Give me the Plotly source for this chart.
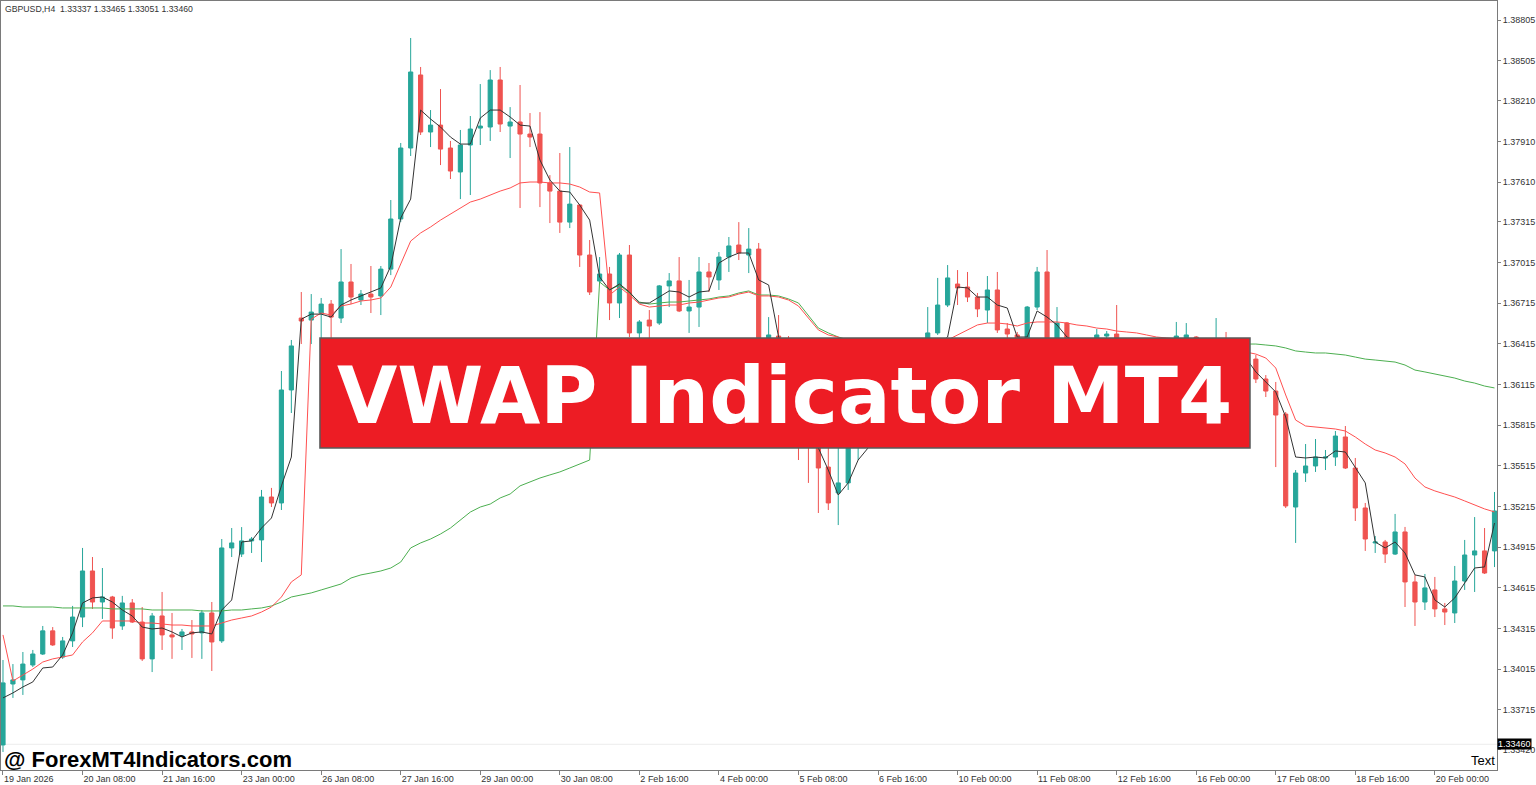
import plotly.graph_objects as go

# GBPUSD H4 candles, 19 Jan - 20 Feb 2026
open_ = [
    1.33455, 1.33905, 1.33935, 1.34045, 1.34126, 1.34297, 1.34104, 1.34223, 1.34399, 1.34739,
    1.34510, 1.34547, 1.34333, 1.34503, 1.34362, 1.34090, 1.34407, 1.34267, 1.34260, 1.34289,
    1.34282, 1.34429, 1.34223, 1.34909, 1.34864, 1.34961, 1.34968, 1.35285, 1.35241, 1.36075,
    1.36606, 1.36591, 1.36643, 1.36709, 1.36606, 1.36872, 1.36739, 1.36783, 1.36769, 1.36967,
    1.37337, 1.37861, 1.38400, 1.37979, 1.38030, 1.37861, 1.37684, 1.37883, 1.38008, 1.38016,
    1.38363, 1.38023, 1.38053, 1.37964, 1.37964, 1.37603, 1.37543, 1.37314, 1.37440, 1.37071,
    1.36879, 1.36931, 1.36717, 1.37071, 1.36496, 1.36591, 1.36569, 1.36843, 1.36880, 1.36658,
    1.36687, 1.36946, 1.36887, 1.37056, 1.37145, 1.37071, 1.37115, 1.36459, 1.36473, 1.36370,
    1.36149, 1.35817, 1.35669, 1.35506, 1.35315, 1.35389, 1.35706, 1.35890, 1.36001, 1.35927,
    1.36112, 1.36222, 1.36163, 1.36407, 1.36496, 1.36702, 1.36857, 1.36835, 1.36761, 1.36665,
    1.36813, 1.36525, 1.36481, 1.36407, 1.36687, 1.36946, 1.36407, 1.36569, 1.36407, 1.36370,
    1.36429, 1.36473, 1.36488, 1.36429, 1.36370, 1.36407, 1.36355, 1.36400, 1.36444, 1.36459,
    1.36466, 1.36429, 1.36385, 1.36444, 1.36370, 1.36326, 1.36303, 1.36156, 1.36067, 1.35897,
    1.35211, 1.35462, 1.35514, 1.35573, 1.35580, 1.35728, 1.35499, 1.35204, 1.34946, 1.34953,
    1.34864, 1.35027, 1.34658, 1.34510, 1.34599, 1.34459, 1.34429, 1.34665, 1.34857, 1.34887,
    1.34887,
]
high = [
    1.34082, 1.34052, 1.34141, 1.34156, 1.34333, 1.34325, 1.34252, 1.34481, 1.34909, 1.34842,
    1.34761, 1.34555, 1.34555, 1.34532, 1.34473, 1.34429, 1.34584, 1.34429, 1.34311, 1.34377,
    1.34451, 1.34510, 1.34975, 1.35056, 1.35063, 1.34990, 1.35337, 1.35352, 1.36215, 1.36444,
    1.36798, 1.36783, 1.36754, 1.36739, 1.37115, 1.37005, 1.36813, 1.36990, 1.36990, 1.37477,
    1.37898, 1.38673, 1.38459, 1.38141, 1.38296, 1.37913, 1.37994, 1.38097, 1.38333, 1.38436,
    1.38459, 1.38163, 1.38326, 1.38119, 1.38126, 1.37661, 1.37824, 1.37868, 1.37447, 1.37182,
    1.37056, 1.36983, 1.37086, 1.37145, 1.36591, 1.36665, 1.36850, 1.36938, 1.37056, 1.36887,
    1.37056, 1.37012, 1.37093, 1.37204, 1.37314, 1.37270, 1.37160, 1.36613, 1.36628, 1.36473,
    1.36208, 1.35890, 1.35743, 1.35647, 1.35647, 1.35780, 1.35964, 1.36075, 1.36060, 1.36163,
    1.36296, 1.36311, 1.36444, 1.36687, 1.36902, 1.36997, 1.36960, 1.36946, 1.36791, 1.36916,
    1.36946, 1.36569, 1.36503, 1.36695, 1.36983, 1.37108, 1.36687, 1.36577, 1.36444, 1.36444,
    1.36525, 1.36510, 1.36702, 1.36444, 1.36437, 1.36429, 1.36429, 1.36451, 1.36577, 1.36569,
    1.36473, 1.36459, 1.36606, 1.36503, 1.36444, 1.36407, 1.36333, 1.36185, 1.36134, 1.35912,
    1.35484, 1.35676, 1.35713, 1.35632, 1.35772, 1.35809, 1.35573, 1.35241, 1.34997, 1.34968,
    1.35160, 1.35064, 1.34709, 1.34717, 1.34695, 1.34503, 1.34776, 1.34968, 1.35137, 1.35056,
    1.35322,
]
low = [
    1.33403, 1.33802, 1.33824, 1.34030, 1.34119, 1.34186, 1.34090, 1.34178, 1.34325, 1.34459,
    1.34385, 1.34238, 1.34304, 1.34355, 1.34075, 1.33993, 1.34156, 1.34090, 1.34156, 1.34097,
    1.34090, 1.34001, 1.34208, 1.34842, 1.34842, 1.34872, 1.34805, 1.35211, 1.35189, 1.35905,
    1.36414, 1.36414, 1.36444, 1.36459, 1.36569, 1.36709, 1.36702, 1.36643, 1.36628, 1.36923,
    1.37314, 1.37802, 1.37957, 1.37868, 1.37735, 1.37632, 1.37484, 1.37514, 1.37883, 1.37913,
    1.37979, 1.37787, 1.37418, 1.37868, 1.37425, 1.37307, 1.37234, 1.37270, 1.36983, 1.36776,
    1.36865, 1.36591, 1.36606, 1.36466, 1.36459, 1.36444, 1.36555, 1.36687, 1.36650, 1.36496,
    1.36540, 1.36798, 1.36813, 1.36946, 1.37034, 1.36938, 1.36407, 1.36407, 1.36311, 1.36075,
    1.35558, 1.35389, 1.35167, 1.35189, 1.35078, 1.35337, 1.35558, 1.35817, 1.35868, 1.35890,
    1.36060, 1.36104, 1.36134, 1.36370, 1.36481, 1.36687, 1.36702, 1.36724, 1.36613, 1.36569,
    1.36496, 1.36459, 1.36385, 1.36370, 1.36665, 1.36370, 1.36370, 1.36355, 1.36296, 1.36326,
    1.36400, 1.36444, 1.36400, 1.36326, 1.36341, 1.36311, 1.36326, 1.36370, 1.36414, 1.36429,
    1.36385, 1.36333, 1.36355, 1.36326, 1.36281, 1.36259, 1.36126, 1.36023, 1.35506, 1.35204,
    1.34946, 1.35396, 1.35470, 1.35484, 1.35514, 1.35492, 1.35108, 1.34887, 1.34872, 1.34798,
    1.34857, 1.34473, 1.34333, 1.34451, 1.34399, 1.34340, 1.34355, 1.34599, 1.34584, 1.34717,
    1.34768,
]
close = [
    1.33913, 1.33935, 1.34052, 1.34126, 1.34297, 1.34193, 1.34223, 1.34399, 1.34739, 1.34510,
    1.34547, 1.34318, 1.34503, 1.34362, 1.34090, 1.34407, 1.34267, 1.34252, 1.34289, 1.34274,
    1.34429, 1.34215, 1.34909, 1.34946, 1.34961, 1.34975, 1.35285, 1.35241, 1.36075, 1.36400,
    1.36584, 1.36650, 1.36709, 1.36613, 1.36872, 1.36761, 1.36783, 1.36761, 1.36967, 1.37337,
    1.37861, 1.38422, 1.37979, 1.38030, 1.37853, 1.37691, 1.37883, 1.38001, 1.38023, 1.38363,
    1.38038, 1.38053, 1.37964, 1.37942, 1.37603, 1.37543, 1.37314, 1.37447, 1.37071, 1.36798,
    1.36931, 1.36717, 1.37071, 1.36496, 1.36577, 1.36547, 1.36843, 1.36880, 1.36658, 1.36687,
    1.36946, 1.36909, 1.37056, 1.37138, 1.37086, 1.37115, 1.36459, 1.36481, 1.36370, 1.36149,
    1.35817, 1.35669, 1.35499, 1.35241, 1.35389, 1.35706, 1.35890, 1.36001, 1.35927, 1.36112,
    1.36222, 1.36163, 1.36407, 1.36496, 1.36702, 1.36902, 1.36828, 1.36761, 1.36673, 1.36813,
    1.36518, 1.36488, 1.36444, 1.36687, 1.36946, 1.36407, 1.36569, 1.36407, 1.36370, 1.36429,
    1.36481, 1.36488, 1.36429, 1.36370, 1.36407, 1.36355, 1.36400, 1.36444, 1.36473, 1.36481,
    1.36429, 1.36385, 1.36444, 1.36370, 1.36326, 1.36303, 1.36156, 1.36067, 1.35890, 1.35219,
    1.35462, 1.35514, 1.35580, 1.35580, 1.35735, 1.35499, 1.35204, 1.34975, 1.34953, 1.34864,
    1.35027, 1.34658, 1.34510, 1.34614, 1.34459, 1.34436, 1.34665, 1.34857, 1.34887, 1.34724,
    1.35182,
]

# indicator lines
fast_line = [
    1.33802, 1.33839, 1.33883, 1.33920, 1.34023, 1.34030, 1.34119, 1.34282, 1.34503, 1.34540,
    1.34547, 1.34510, 1.34451, 1.34407, 1.34325, 1.34311, 1.34318, 1.34289, 1.34252, 1.34282,
    1.34289, 1.34274, 1.34451, 1.34525, 1.34953, 1.34961, 1.35056, 1.35130, 1.35367, 1.35580,
    1.36598, 1.36635, 1.36635, 1.36613, 1.36702, 1.36739, 1.36769, 1.36798, 1.36828, 1.36990,
    1.37344, 1.37484, 1.38141, 1.38075, 1.38016, 1.37942, 1.37890, 1.37890, 1.38082, 1.38141,
    1.38141, 1.38090, 1.38030, 1.38023, 1.37772, 1.37625, 1.37543, 1.37536, 1.37440, 1.37329,
    1.36909, 1.36813, 1.36857, 1.36798, 1.36717, 1.36717, 1.36761, 1.36806, 1.36798, 1.36761,
    1.36798, 1.36806, 1.37012, 1.37056, 1.37086, 1.37086, 1.36887, 1.36850, 1.36466, 1.36296,
    1.36038, 1.35817, 1.35647, 1.35484, 1.35300, 1.35389, 1.35558, 1.35647, 1.35853, 1.35964,
    1.36075, 1.36149, 1.36222, 1.36333, 1.36407, 1.36466, 1.36835, 1.36828, 1.36761, 1.36761,
    1.36702, 1.36680, 1.36466, 1.36466, 1.36658, 1.36613, 1.36555, 1.36466, 1.36429, 1.36407,
    1.36407, 1.36444, 1.36444, 1.36429, 1.36400, 1.36385, 1.36385, 1.36407, 1.36429, 1.36444,
    1.36444, 1.36429, 1.36407, 1.36392, 1.36355, 1.36311, 1.36208, 1.36134, 1.36060, 1.35876,
    1.35580, 1.35573, 1.35580, 1.35573, 1.35625, 1.35617, 1.35506, 1.35389, 1.34953, 1.34909,
    1.34953, 1.34872, 1.34710, 1.34695, 1.34525, 1.34473, 1.34540, 1.34651, 1.34761, 1.34769,
    1.35093,
]
week_vwap = [
    1.34267, 1.33927, 1.33971, 1.34015, 1.34067, 1.34090, 1.34104, 1.34119, 1.34215, 1.34282,
    1.34370, 1.34370, 1.34370, 1.34370, 1.34355, 1.34355, 1.34348, 1.34340, 1.34340, 1.34333,
    1.34333, 1.34333, 1.34355, 1.34377, 1.34392, 1.34407, 1.34436, 1.34473, 1.34547, 1.34658,
    1.34710, 1.36598, 1.36643, 1.36628, 1.36695, 1.36709, 1.36732, 1.36739, 1.36754, 1.36835,
    1.37005, 1.37174, 1.37234, 1.37278, 1.37329, 1.37374, 1.37418, 1.37462, 1.37484, 1.37514,
    1.37543, 1.37566, 1.37603, 1.37610, 1.37610, 1.37603, 1.37603, 1.37595, 1.37573, 1.37536,
    1.37529, 1.36776, 1.36835, 1.36776, 1.36709, 1.36687, 1.36695, 1.36702, 1.36702, 1.36717,
    1.36724, 1.36739, 1.36754, 1.36761, 1.36783, 1.36798, 1.36769, 1.36769, 1.36761, 1.36739,
    1.36695, 1.36606, 1.36518, 1.36481, 1.36466, 1.36407, 1.36355, 1.36311, 1.36281, 1.36259,
    1.36237, 1.36185, 1.36259, 1.36333, 1.36407, 1.36444, 1.36481, 1.36518, 1.36555, 1.36569,
    1.36569, 1.36562, 1.36547, 1.36569, 1.36577, 1.36577, 1.36577, 1.36569, 1.36555, 1.36547,
    1.36532, 1.36525, 1.36510, 1.36503, 1.36496, 1.36481, 1.36466, 1.36459, 1.36451, 1.36444,
    1.36437, 1.36407, 1.36400, 1.36385, 1.36370, 1.36355, 1.36340, 1.36311, 1.36237, 1.36038,
    1.35853, 1.35809, 1.35802, 1.35794, 1.35787, 1.35772, 1.35728, 1.35676, 1.35632, 1.35610,
    1.35580, 1.35529, 1.35425, 1.35359, 1.35330, 1.35307, 1.35285, 1.35256, 1.35226, 1.35197,
    1.35175,
]
month_vwap = [
    1.34481, 1.34481, 1.34473, 1.34473, 1.34473, 1.34473, 1.34466, 1.34466, 1.34466, 1.34466,
    1.34466, 1.34459, 1.34459, 1.34459, 1.34459, 1.34451, 1.34451, 1.34451, 1.34451, 1.34451,
    1.34444, 1.34444, 1.34444, 1.34451, 1.34451, 1.34459, 1.34466, 1.34481, 1.34510, 1.34547,
    1.34562, 1.34577, 1.34599, 1.34621, 1.34643, 1.34687, 1.34710, 1.34724, 1.34739, 1.34761,
    1.34805, 1.34909, 1.34946, 1.34975, 1.35012, 1.35056, 1.35115, 1.35174, 1.35211, 1.35233,
    1.35278, 1.35307, 1.35367, 1.35396, 1.35425, 1.35448, 1.35470, 1.35499, 1.35529, 1.35558,
    1.36872, 1.36813, 1.36850, 1.36791, 1.36724, 1.36709, 1.36717, 1.36724, 1.36724, 1.36732,
    1.36739, 1.36747, 1.36761, 1.36769, 1.36791, 1.36806, 1.36776, 1.36776, 1.36769, 1.36747,
    1.36717, 1.36628, 1.36532, 1.36496, 1.36466, 1.36444, 1.36422, 1.36407, 1.36392, 1.36385,
    1.36377, 1.36377, 1.36377, 1.36385, 1.36392, 1.36400, 1.36407, 1.36414, 1.36422, 1.36429,
    1.36437, 1.36437, 1.36437, 1.36437, 1.36437, 1.36437, 1.36437, 1.36429, 1.36429, 1.36429,
    1.36429, 1.36429, 1.36429, 1.36429, 1.36422, 1.36422, 1.36422, 1.36422, 1.36422, 1.36422,
    1.36422, 1.36414, 1.36414, 1.36414, 1.36414, 1.36414, 1.36414, 1.36407, 1.36400, 1.36385,
    1.36363, 1.36355, 1.36348, 1.36348, 1.36340, 1.36333, 1.36318, 1.36303, 1.36296, 1.36289,
    1.36281, 1.36259, 1.36222, 1.36208, 1.36193, 1.36178, 1.36163, 1.36141, 1.36126, 1.36104,
    1.36090,
]

price_ticks = [1.38805, 1.38505, 1.38210, 1.37910, 1.37610, 1.37315, 1.37015, 1.36715, 1.36415,
               1.36115, 1.35815, 1.35515, 1.35215, 1.34915, 1.34615, 1.34315, 1.34015, 1.33715,
               1.33420]
time_tick_bars = [0, 8, 16, 24, 32, 40, 48, 56, 64, 72, 80, 88, 96, 104, 112, 120, 128, 136, 144]
time_tick_labels = ["19 Jan 2026", "20 Jan 08:00", "21 Jan 16:00", "23 Jan 00:00", "26 Jan 08:00",
                    "27 Jan 16:00", "29 Jan 00:00", "30 Jan 08:00", "2 Feb 16:00", "4 Feb 00:00",
                    "5 Feb 08:00", "6 Feb 16:00", "10 Feb 00:00", "11 Feb 08:00", "12 Feb 16:00",
                    "16 Feb 00:00", "17 Feb 08:00", "18 Feb 16:00", "20 Feb 00:00"]
bid_price = 1.33460
header = "GBPUSD,H4  1.33337 1.33465 1.33051 1.33460"

bars = list(range(len(close)))
BULL = "#26a69a"
BEAR = "#ef5350"

fig = go.Figure()
fig.add_trace(go.Candlestick(
    x=bars, open=open_, high=high, low=low, close=close,
    increasing=dict(line=dict(color=BULL, width=1), fillcolor=BULL),
    decreasing=dict(line=dict(color=BEAR, width=1), fillcolor=BEAR),
    whiskerwidth=0, hoverinfo="skip",
))
fig.add_trace(go.Scatter(x=bars, y=month_vwap, mode="lines",
                         line=dict(color="#4caf50", width=1), hoverinfo="skip"))
fig.add_trace(go.Scatter(x=bars, y=week_vwap, mode="lines",
                         line=dict(color="#ff5050", width=1), hoverinfo="skip"))
fig.add_trace(go.Scatter(x=bars, y=fast_line, mode="lines",
                         line=dict(color="#333333", width=1), hoverinfo="skip"))

# bid line
fig.add_hline(y=bid_price, line=dict(color="#ececec", width=1), layer="below")

# banner
fig.add_shape(type="rect", xref="paper", yref="paper",
              x0=0.2132, x1=0.8349, y0=0.4187, y1=0.5618,
              fillcolor="#ed1c24", line=dict(color="#5a5a5a", width=1.5), layer="above")
fig.add_annotation(text="<b>VWAP Indicator MT4</b>", xref="paper", yref="paper",
                   x=0.524, y=0.4863, showarrow=False,
                   font=dict(family="DejaVu Sans", size=78, color="white"))

fig.add_annotation(text=header, xref="paper", yref="paper", x=0, y=1,
                   xanchor="left", yanchor="top", xshift=2, yshift=-1, showarrow=False,
                   font=dict(family="Liberation Sans", size=8.7, color="#333333"))
fig.add_annotation(text="<b>@ ForexMT4Indicators.com</b>", xref="paper", yref="paper",
                   x=0, y=0, xanchor="left", yanchor="bottom", xshift=1, yshift=-4,
                   showarrow=False, font=dict(family="Liberation Sans", size=22, color="black"))
fig.add_annotation(text="Text", xref="paper", yref="paper", x=1, y=0,
                   xanchor="right", yanchor="bottom", showarrow=False,
                   font=dict(family="Liberation Sans", size=13, color="black"))
fig.add_annotation(text="%.5f" % bid_price, xref="paper", yref="y", x=1, y=bid_price,
                   xanchor="left", showarrow=False, bgcolor="black", borderpad=0,
                   font=dict(family="Liberation Sans", size=9, color="white"))

fig.update_xaxes(range=[-0.2, 150.25], tickvals=time_tick_bars, ticktext=time_tick_labels,
                 ticks="outside", ticklen=4, tickcolor="#808080", ticklabelposition="outside right",
                 showline=True, linecolor="#7a7a7a", linewidth=1, mirror=True,
                 showgrid=False, zeroline=False, rangeslider_visible=False,
                 tickfont=dict(family="Liberation Sans", size=9, color="#333333"))
fig.update_yaxes(range=[1.33270, 1.38946], side="right", tickvals=price_ticks,
                 ticktext=["%.5f" % v for v in price_ticks],
                 ticks="outside", ticklen=3, tickcolor="#808080",
                 showline=True, linecolor="#7a7a7a", linewidth=1, mirror=True,
                 showgrid=False, zeroline=False,
                 tickfont=dict(family="Liberation Sans", size=9, color="#333333"))
fig.update_layout(width=1536, height=785, margin=dict(l=1, r=39, t=1, b=15),
                  paper_bgcolor="white", plot_bgcolor="white", showlegend=False,
                  boxgap=0.4, hovermode=False, font=dict(family="Liberation Sans"))

fig.write_html("out.html", config={"displayModeBar": False},
               post_script="document.body.style.margin='0';document.body.style.overflow='hidden';")
